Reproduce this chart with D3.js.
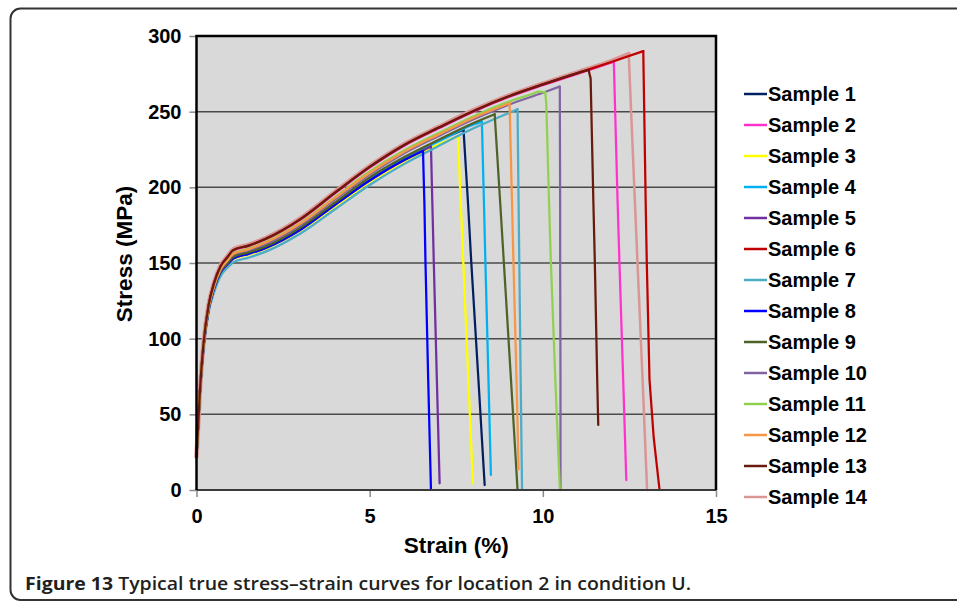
<!DOCTYPE html>
<html>
<head>
<meta charset="utf-8">
<script src="https://cdn.jsdelivr.net/npm/d3@7"></script>
<style>
  body { margin: 0; background: #fff; }
  text { font-family: "Liberation Sans", Arial, sans-serif; font-weight: bold; }
</style>
</head>
<body>
<div id="chart"></div>
<script>
// Data
const sampleNames = ["Sample 1", "Sample 2", "Sample 3", "Sample 4", "Sample 5", "Sample 6", "Sample 7",
                     "Sample 8", "Sample 9", "Sample 10", "Sample 11", "Sample 12", "Sample 13", "Sample 14"];
const sampleColors = ["#002060", "#ff33cc", "#ffff00", "#00b0f0", "#7030a0", "#c00000", "#4bacc6",
                      "#0000ff", "#4f6228", "#8064a2", "#92d050", "#f79646", "#6a1a0c", "#d99694"];

// strain (%) where the rising part is read
const strainGrid = [0, 0.1, 0.2, 0.35, 0.5, 0.7, 0.9, 1.06, 1.5, 2, 3, 4, 5, 6, 7, 8, 9, 10, 11, 12];

// stress (MPa) on strainGrid, per sample
const riseStress = [
  [22, 65, 94, 119.5, 132.5, 144, 150, 154, 157, 161, 173, 189.5, 206, 219.5, 231],
  [22, 66, 96, 122, 136, 148, 154, 158, 161, 165.5, 178.5, 196, 213, 227.5, 239, 250, 259.5, 267.5, 275],
  [22, 65, 94, 118.5, 131.5, 143, 148.5, 152.5, 155.5, 159.5, 171.5, 187.5, 203.5, 217, 228.5],
  [22, 65, 94, 119.5, 132.5, 144, 149.5, 153.5, 156.5, 160.5, 172.5, 189.5, 205.5, 219, 230.5, 241.5],
  [22, 65, 94, 119, 132, 143.5, 149, 153, 156, 160, 172, 188.5, 204.5, 218],
  [22, 66, 96, 122, 136, 148, 154, 158.5, 161.5, 166, 179, 196.5, 213.5, 228, 239.5, 250.5, 260, 268, 275.5, 283],
  [22, 64.5, 93.5, 117.5, 130, 141.5, 147, 150.5, 153.5, 157.5, 169.5, 185.5, 201.5, 215.5, 227.5, 239, 249],
  [22, 65, 94, 119, 132.5, 144, 149.5, 153, 156, 160, 172, 188.5, 204.5, 218],
  [22, 65, 94.5, 119.5, 133, 144.5, 150, 154, 157, 161, 173.5, 190, 206.5, 220, 231.5, 242.5],
  [22, 65.5, 95, 120.5, 134, 145.5, 151.5, 155.5, 158.5, 162.5, 175, 192, 208.5, 222.5, 234, 245, 254.5, 262.5],
  [22, 65.5, 95.5, 121, 134.5, 146.5, 152, 156.5, 159.5, 164, 176.5, 193.5, 210.5, 224.5, 236, 247, 256.5],
  [22, 65.5, 95, 120.5, 134, 146, 152, 156, 159, 163.5, 176, 193, 209.5, 223.5, 235, 246],
  [22, 66, 96, 122, 136, 148, 154, 158.5, 161.5, 166, 179, 196.5, 213.5, 228, 239.5, 250.5, 260, 268, 275.5],
  [22, 66.5, 96.5, 122.5, 136.5, 148.5, 154.5, 159, 162, 166.5, 179.5, 197, 214, 228.5, 240, 251, 260.5, 268.5, 276, 283.5]
];

// points up to the peak (after the grid)
const peakStrain = [[7.71], [12.05], [7.55], [8.24], [6.77], [12.9], [9.27], [6.54], [8.61], [10.49],
                    [9.6, 9.9, 10.07], [9.04], [11.32], [12.48]];
const peakStress = [[238], [283], [233.5], [243.4], [227], [290], [251.6], [224], [248.3], [266.6],
                    [261, 263.2, 262.8], [255.6], [277.6], [288]];

// fracture drop after the peak
const dropStrain = [
  [7.84, 7.93, 8.14, 8.32], [12.16, 12.21, 12.32, 12.41], [7.63, 7.7, 7.85, 7.98], [8.3, 8.34, 8.43, 8.5],
  [6.81, 6.85, 6.94, 7.02], [12.97, 13.0, 13.08, 13.2, 13.37], [9.3, 9.32, 9.36, 9.4], [6.58, 6.61, 6.69, 6.77],
  [8.77, 8.87, 9.08, 9.27], [10.5, 10.5, 10.51, 10.51], [10.1, 10.18, 10.23, 10.36, 10.49],
  [9.11, 9.15, 9.24, 9.3], [11.38, 11.46, 11.5, 11.57, 11.6], [12.66, 12.73, 12.88, 13.01]
];
const dropStress = [
  [189.5, 152, 73, 3.3], [189.5, 152, 73, 6.6], [189.5, 152, 73, 4.4], [189.5, 152, 73, 10],
  [189.5, 152, 73, 4.4], [189.5, 152, 73, 35, 0], [189.5, 152, 73, 0], [189.5, 152, 73, 0],
  [189.5, 152, 73, 0], [189.5, 152, 73, 0], [255, 189.5, 152, 73, 1],
  [189.5, 152, 73, 13.7], [272, 189.5, 152, 73, 43], [189.5, 152, 73, 0]
];

const xTicks = [0, 5, 10, 15];
const yTicks = [0, 50, 100, 150, 200, 250, 300];

// Kích thước
const W = 957, H = 602;
const plot = { left: 196.5, right: 716, top: 36, bottom: 490 };

const svg = d3.select("#chart").append("svg")
  .attr("width", W)
  .attr("height", H);

// khung ngoài
svg.append("path")
  .attr("d", "M 1000 8.5 H 20.5 A 10 10 0 0 0 10.5 18.5 V 590 A 10 10 0 0 0 20.5 600 H 1000")
  .attr("fill", "none")
  .attr("stroke", "#333")
  .attr("stroke-width", 2);

const x = d3.scaleLinear().domain([0, 15]).range([plot.left, plot.right]);
const y = d3.scaleLinear().domain([0, 300]).range([plot.bottom, plot.top]);

// nền vùng vẽ
svg.append("rect")
  .attr("x", plot.left).attr("y", plot.top)
  .attr("width", plot.right - plot.left)
  .attr("height", plot.bottom - plot.top)
  .attr("fill", "#d9d9d9");

// lưới ngang
svg.append("g")
  .selectAll("line")
  .data(yTicks.filter(d => d > 0 && d < 300))
  .enter().append("line")
    .attr("x1", plot.left).attr("x2", plot.right)
    .attr("y1", d => y(d)).attr("y2", d => y(d))
    .attr("stroke", "#4a4a4a")
    .attr("stroke-width", 1.5);

// Trục Y
const yAxis = svg.append("g")
  .attr("transform", `translate(${plot.left},0)`)
  .call(d3.axisLeft(y).tickValues(yTicks).tickSize(7).tickPadding(8));
yAxis.select(".domain").remove();
yAxis.selectAll(".tick line").attr("stroke", "#8a8a8a").attr("stroke-width", 1.5);
yAxis.selectAll(".tick text")
  .attr("font-size", "20px")
  .attr("font-family", "Liberation Sans, Arial, sans-serif")
  .attr("font-weight", "bold")
  .attr("fill", "#000");

// Trục X
const xAxis = svg.append("g")
  .attr("transform", `translate(0,${plot.bottom})`)
  .call(d3.axisBottom(x).tickValues(xTicks).tickSize(7).tickPadding(12));
xAxis.select(".domain").remove();
xAxis.selectAll(".tick line").attr("stroke", "#8a8a8a").attr("stroke-width", 1.5);
xAxis.selectAll(".tick text")
  .attr("font-size", "20px")
  .attr("font-family", "Liberation Sans, Arial, sans-serif")
  .attr("font-weight", "bold")
  .attr("fill", "#000");

// Đường cong
const riseLine = d3.line().x(d => x(d[0])).y(d => y(d[1])).curve(d3.curveMonotoneX);
const dropLine = d3.line().x(d => x(d[0])).y(d => y(d[1]));

const series = sampleNames.map((name, i) => {
  const rise = riseStress[i].map((s, j) => [strainGrid[j], s])
    .concat(peakStrain[i].map((e, j) => [e, peakStress[i][j]]));
  const peak = rise[rise.length - 1];
  const drop = [peak].concat(dropStrain[i].map((e, j) => [e, dropStress[i][j]]));
  return { name, color: sampleColors[i], rise, drop, i };
});

// Sample 14 vẽ trước, nét dày (quầng hồng)
const order = [13, 0, 1, 2, 3, 4, 5, 6, 7, 8, 9, 10, 11, 12];
const curves = svg.append("g")
  .attr("fill", "none")
  .attr("stroke-linejoin", "round")
  .attr("stroke-linecap", "round");

order.forEach(k => {
  const s = series[k];
  const w = k === 13 ? 4.5 : 2.25;
  curves.append("path").attr("d", riseLine(s.rise)).attr("stroke", s.color).attr("stroke-width", w);
  curves.append("path").attr("d", dropLine(s.drop)).attr("stroke", s.color).attr("stroke-width", k === 13 ? 2.5 : w);
});

// viền vùng vẽ
svg.append("line")
  .attr("x1", plot.left).attr("x2", plot.right)
  .attr("y1", plot.bottom).attr("y2", plot.bottom)
  .attr("stroke", "#3a3a3a").attr("stroke-width", 2);
svg.append("path")
  .attr("d", `M${plot.left},${plot.bottom} V${plot.top} H${plot.right} V${plot.bottom}`)
  .attr("fill", "none")
  .attr("stroke", "#000")
  .attr("stroke-width", 2.5);

// Tên trục
svg.append("text")
  .attr("x", (plot.left + plot.right) / 2)
  .attr("y", 553)
  .attr("text-anchor", "middle")
  .attr("font-size", "22.5px")
  .text("Strain (%)");

svg.append("text")
  .attr("transform", "translate(132,254) rotate(-90)")
  .attr("text-anchor", "middle")
  .attr("font-size", "22.5px")
  .text("Stress (MPa)");

// Chú giải
const legend = svg.append("g");
series.forEach((s, i) => {
  const ly = 94 + i * 31;
  legend.append("line")
    .attr("x1", 744).attr("x2", 767)
    .attr("y1", ly).attr("y2", ly)
    .attr("stroke", s.color)
    .attr("stroke-width", 2.5);
  legend.append("text")
    .attr("x", 768)
    .attr("y", ly + 7)
    .attr("font-size", "20px")
    .attr("fill", "#000")
    .text(s.name);
});

// Chú thích hình
const cap = svg.append("text")
  .attr("x", 25)
  .attr("y", 590)
  .attr("font-size", "17.5px")
  .attr("fill", "#231f20")
  .style("font-family", "'Open Sans', 'Noto Sans', sans-serif")
  .attr("textLength", 666)
  .attr("lengthAdjust", "spacingAndGlyphs");
cap.append("tspan").attr("font-weight", 700).text("Figure 13");
cap.append("tspan").attr("font-weight", 600).text(" Typical true stress\u2013strain curves for location 2 in condition U.");
</script>
</body>
</html>
